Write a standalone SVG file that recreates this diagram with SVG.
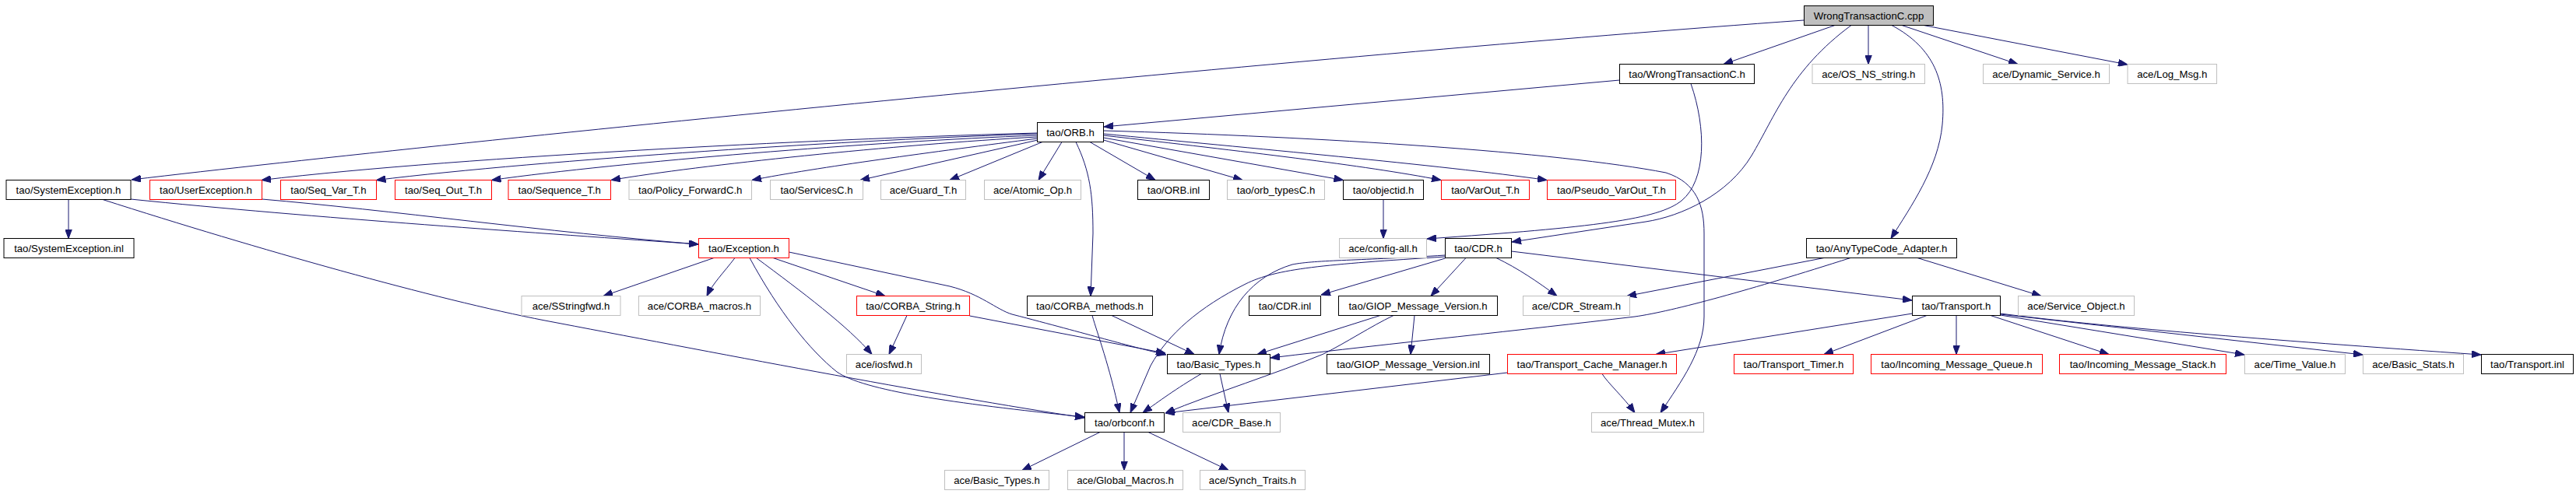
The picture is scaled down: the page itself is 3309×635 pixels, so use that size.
<svg xmlns="http://www.w3.org/2000/svg" width="3309" height="635" viewBox="0 0 3309 635">
<style>
rect{fill:#fff;stroke:#000;stroke-width:1}
.g rect{stroke:#bfbfbf}
.r rect{stroke:#ff0000}
.root rect{fill:#bfbfbf}
text{font-family:"Liberation Sans",Arial,sans-serif;font-size:13.2px;text-anchor:middle;fill:#000}
#edges path{fill:none;stroke:#191970;stroke-width:1;marker-end:url(#ah)}
</style>
<defs>
<marker id="ah" viewBox="0 0 12 9" refX="12" refY="4.5" markerWidth="12" markerHeight="9" markerUnits="userSpaceOnUse" orient="auto"><path d="M0,0L12,4.5L0,9z" fill="#191970" stroke="#191970" stroke-width="1"/></marker>
</defs>
<rect x="0" y="0" width="3309" height="635" style="fill:#fff;stroke:none"/>
<g id="edges">
<path d="M2317,26 C1700,70 600,180 169,231"/>
<path d="M2357,32.5 L2214,82.5"/>
<path d="M2400,32.5 L2400,82.5"/>
<path d="M2443,32.5 L2592,82.5"/>
<path d="M2471,32.5 L2733,83"/>
<path d="M2430,32.5 C2485,62 2500,105 2495,160 C2490,215 2455,265 2429,306.5"/>
<path d="M2378,32.5 C2300,90 2280,150 2250,200 C2220,250 2160,278 2114,285 L1942,311"/>
<path d="M2172,107.5 C2192,165 2192,232 2160,258 C2130,282 2050,292 1833,307"/>
<path d="M2080.5,103 L1418,163"/>
<path d="M1332.5,171 C1100,177 600,200 336,231.5"/>
<path d="M1332.5,172 C1110,179 700,205 483.5,231.5"/>
<path d="M1332.5,174 C1120,182 800,208 631.5,231.5"/>
<path d="M1332.5,176 C1150,186 900,212 785,231.5"/>
<path d="M1332.5,178 C1200,195 1050,215 966,231.5"/>
<path d="M1333,180 L1105,231.5"/>
<path d="M1339,182.5 L1220,231.5"/>
<path d="M1364,182.5 L1334,231.5"/>
<path d="M1400,182.5 L1484,231.5"/>
<path d="M1417.5,180 L1596,231.5"/>
<path d="M1417.5,177 L1725.5,231.5"/>
<path d="M1417.5,174 C1600,195 1750,212 1851,231.5"/>
<path d="M1417.5,172 C1600,190 1850,212 1987,231.5"/>
<path d="M1382,182.5 C1400,220 1404,250 1404,300 L1401,380.5"/>
<path d="M1417.5,168 C1700,176 2000,195 2140,222 C2180,235 2189,265 2189,300 L2189,407 C2189,450 2160,490 2133,530.5"/>
<path d="M1777,256.5 L1777,306.5"/>
<path d="M88,256.5 L88,306.5"/>
<path d="M168,256 C400,280 700,300 897,314"/>
<path d="M336.5,256 C500,270 700,298 897,314"/>
<path d="M132,256.5 C330,320 560,385 700,412 C900,450 1200,508 1393,537"/>
<path d="M917,331.5 L775,380.5"/>
<path d="M944,331.5 C930,350 915,365 908,380.5"/>
<path d="M971.5,331.5 C1030,375 1090,420 1120,455.5"/>
<path d="M993,331.5 L1137,380.5"/>
<path d="M963,331.5 C1000,400 1040,450 1075,478 C1110,502 1220,518 1393,536"/>
<path d="M1013.5,324 L1220,368 C1260,378 1280,398 1300,404 C1400,430 1450,445 1498,456"/>
<path d="M1165,405.5 L1142,455.5"/>
<path d="M1245.5,406 L1497,454"/>
<path d="M1403,405.5 C1410,430 1425,470 1438,530.5"/>
<path d="M1428,405.5 L1534,455.5"/>
<path d="M1543,480.5 C1510,500 1490,515 1468,530.5"/>
<path d="M1567,480.5 L1578,530.5"/>
<path d="M1413,555.5 L1313,604.5"/>
<path d="M1444,555.5 L1444,604.5"/>
<path d="M1475,555.5 L1578,604.5"/>
<path d="M1856.5,330 C1700,340 1640,345 1600,365 C1540,395 1500,430 1478,470 L1452,530.5"/>
<path d="M1856.5,328 C1750,335 1690,334 1660,340 C1610,355 1575,395 1566,455.5"/>
<path d="M1856.5,332 L1697,379"/>
<path d="M1883,331.5 L1838,380.5"/>
<path d="M1922,331.5 C1950,345 1975,362 2000,380.5"/>
<path d="M1941.5,323 L2456,386"/>
<path d="M2343,331.5 L2090,380.5"/>
<path d="M2377,331.5 C2250,372 2150,400 2100,407 C1950,425 1800,440 1632,460"/>
<path d="M2463,331.5 L2622,380.5"/>
<path d="M1817,405.5 L1812,455.5"/>
<path d="M1773,405.5 L1615,455.5"/>
<path d="M1790,405.5 C1760,420 1730,440 1700,455 C1640,480 1560,505 1497,531"/>
<path d="M1936.5,479 L1497,531"/>
<path d="M2058,480.5 C2065,492 2085,510 2100,530.5"/>
<path d="M2456.5,403 L2127,455.5"/>
<path d="M2475,405.5 L2343,455.5"/>
<path d="M2513,405.5 L2513,455.5"/>
<path d="M2557,405.5 L2709,455.5"/>
<path d="M2569.5,405 L2883,456"/>
<path d="M2569.5,404 L3035,456"/>
<path d="M2569.5,403 C2700,420 2900,436 3187,456"/>
</g>
<g id="n0" class="root"><rect x="2317.5" y="7.5" width="166" height="25"/><text x="2400.5" y="25">WrongTransactionC.cpp</text></g>
<g id="n1"><rect x="2080.5" y="82.5" width="173" height="25"/><text x="2167" y="100">tao/WrongTransactionC.h</text></g>
<g id="n2" class="g"><rect x="2328" y="82.5" width="144.5" height="25"/><text x="2400.25" y="100">ace/OS_NS_string.h</text></g>
<g id="n3" class="g"><rect x="2547.5" y="82.5" width="162" height="25"/><text x="2628.5" y="100">ace/Dynamic_Service.h</text></g>
<g id="n4" class="g"><rect x="2733" y="82.5" width="114.5" height="25"/><text x="2790.25" y="100">ace/Log_Msg.h</text></g>
<g id="n5"><rect x="1332.5" y="157.5" width="85" height="25"/><text x="1375" y="175">tao/ORB.h</text></g>
<g id="n6"><rect x="8" y="231.5" width="160" height="25"/><text x="88" y="249">tao/SystemException.h</text></g>
<g id="n7" class="r"><rect x="192.5" y="231.5" width="144" height="25"/><text x="264.5" y="249">tao/UserException.h</text></g>
<g id="n8" class="r"><rect x="360.5" y="231.5" width="123" height="25"/><text x="422" y="249">tao/Seq_Var_T.h</text></g>
<g id="n9" class="r"><rect x="507.5" y="231.5" width="124" height="25"/><text x="569.5" y="249">tao/Seq_Out_T.h</text></g>
<g id="n10" class="r"><rect x="653" y="231.5" width="131.5" height="25"/><text x="718.75" y="249">tao/Sequence_T.h</text></g>
<g id="n11" class="g"><rect x="808" y="231.5" width="157.5" height="25"/><text x="886.75" y="249">tao/Policy_ForwardC.h</text></g>
<g id="n12" class="g"><rect x="989.5" y="231.5" width="119" height="25"/><text x="1049" y="249">tao/ServicesC.h</text></g>
<g id="n13" class="g"><rect x="1131.5" y="231.5" width="109" height="25"/><text x="1186" y="249">ace/Guard_T.h</text></g>
<g id="n14" class="g"><rect x="1264.5" y="231.5" width="124" height="25"/><text x="1326.5" y="249">ace/Atomic_Op.h</text></g>
<g id="n15"><rect x="1461.5" y="231.5" width="92" height="25"/><text x="1507.5" y="249">tao/ORB.inl</text></g>
<g id="n16" class="g"><rect x="1576.5" y="231.5" width="125" height="25"/><text x="1639" y="249">tao/orb_typesC.h</text></g>
<g id="n17"><rect x="1725.5" y="231.5" width="103" height="25"/><text x="1777" y="249">tao/objectid.h</text></g>
<g id="n18" class="r"><rect x="1851.5" y="231.5" width="113" height="25"/><text x="1908" y="249">tao/VarOut_T.h</text></g>
<g id="n19" class="r"><rect x="1987.5" y="231.5" width="165" height="25"/><text x="2070" y="249">tao/Pseudo_VarOut_T.h</text></g>
<g id="n20"><rect x="5" y="306.5" width="167" height="25"/><text x="88.5" y="324">tao/SystemException.inl</text></g>
<g id="n21" class="r"><rect x="897.5" y="306.5" width="116" height="25"/><text x="955.5" y="324">tao/Exception.h</text></g>
<g id="n22" class="g"><rect x="1720.5" y="306.5" width="112" height="25"/><text x="1776.5" y="324">ace/config-all.h</text></g>
<g id="n23"><rect x="1856.5" y="306.5" width="85" height="25"/><text x="1899" y="324">tao/CDR.h</text></g>
<g id="n24"><rect x="2320.5" y="306.5" width="193" height="25"/><text x="2417" y="324">tao/AnyTypeCode_Adapter.h</text></g>
<g id="n25" class="g"><rect x="670" y="380.5" width="127" height="25"/><text x="733.5" y="398">ace/SStringfwd.h</text></g>
<g id="n26" class="g"><rect x="820.5" y="380.5" width="156" height="25"/><text x="898.5" y="398">ace/CORBA_macros.h</text></g>
<g id="n27" class="r"><rect x="1100.5" y="380.5" width="145" height="25"/><text x="1173" y="398">tao/CORBA_String.h</text></g>
<g id="n28"><rect x="1319.5" y="380.5" width="161" height="25"/><text x="1400" y="398">tao/CORBA_methods.h</text></g>
<g id="n29"><rect x="1604.5" y="380.5" width="92" height="25"/><text x="1650.5" y="398">tao/CDR.inl</text></g>
<g id="n30"><rect x="1719.5" y="380.5" width="204" height="25"/><text x="1821.5" y="398">tao/GIOP_Message_Version.h</text></g>
<g id="n31" class="g"><rect x="1956.5" y="380.5" width="137" height="25"/><text x="2025" y="398">ace/CDR_Stream.h</text></g>
<g id="n32"><rect x="2456.5" y="380.5" width="113" height="25"/><text x="2513" y="398">tao/Transport.h</text></g>
<g id="n33" class="g"><rect x="2592.5" y="380.5" width="149" height="25"/><text x="2667" y="398">ace/Service_Object.h</text></g>
<g id="n34" class="g"><rect x="1087.5" y="455.5" width="96" height="25"/><text x="1135.5" y="473">ace/iosfwd.h</text></g>
<g id="n35"><rect x="1499.5" y="455.5" width="132" height="25"/><text x="1565.5" y="473">tao/Basic_Types.h</text></g>
<g id="n36"><rect x="1704.5" y="455.5" width="209" height="25"/><text x="1809" y="473">tao/GIOP_Message_Version.inl</text></g>
<g id="n37" class="r"><rect x="1936.5" y="455.5" width="217" height="25"/><text x="2045" y="473">tao/Transport_Cache_Manager.h</text></g>
<g id="n38" class="r"><rect x="2227.5" y="455.5" width="153" height="25"/><text x="2304" y="473">tao/Transport_Timer.h</text></g>
<g id="n39" class="r"><rect x="2403.5" y="455.5" width="220" height="25"/><text x="2513.5" y="473">tao/Incoming_Message_Queue.h</text></g>
<g id="n40" class="r"><rect x="2645.5" y="455.5" width="214" height="25"/><text x="2752.5" y="473">tao/Incoming_Message_Stack.h</text></g>
<g id="n41" class="g"><rect x="2883.5" y="455.5" width="129" height="25"/><text x="2948" y="473">ace/Time_Value.h</text></g>
<g id="n42" class="g"><rect x="3035.5" y="455.5" width="129" height="25"/><text x="3100" y="473">ace/Basic_Stats.h</text></g>
<g id="n43"><rect x="3187.5" y="455.5" width="118" height="25"/><text x="3246.5" y="473">tao/Transport.inl</text></g>
<g id="n44"><rect x="1393.5" y="530.5" width="102" height="25"/><text x="1444.5" y="548">tao/orbconf.h</text></g>
<g id="n45" class="g"><rect x="1519.5" y="530.5" width="125" height="25"/><text x="1582" y="548">ace/CDR_Base.h</text></g>
<g id="n46" class="g"><rect x="2044.5" y="530.5" width="144" height="25"/><text x="2116.5" y="548">ace/Thread_Mutex.h</text></g>
<g id="n47" class="g"><rect x="1213.5" y="604.5" width="134" height="25"/><text x="1280.5" y="622">ace/Basic_Types.h</text></g>
<g id="n48" class="g"><rect x="1371.5" y="604.5" width="148" height="25"/><text x="1445.5" y="622">ace/Global_Macros.h</text></g>
<g id="n49" class="g"><rect x="1541.5" y="604.5" width="135" height="25"/><text x="1609" y="622">ace/Synch_Traits.h</text></g>
</svg>
